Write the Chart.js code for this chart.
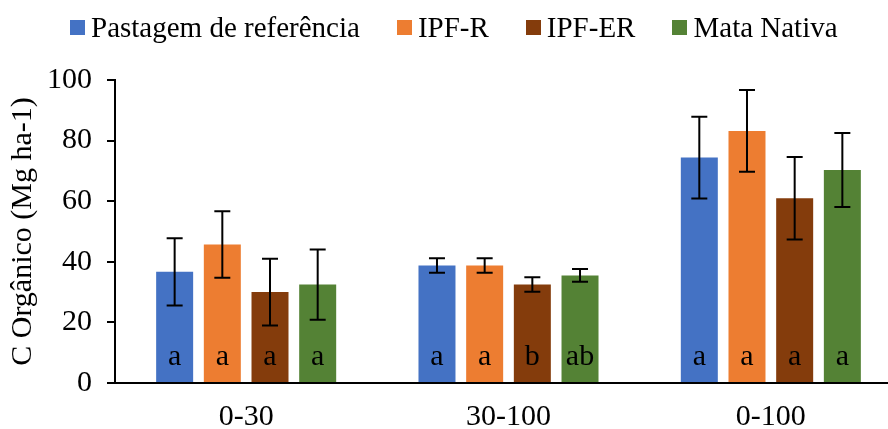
<!DOCTYPE html>
<html>
<head>
<meta charset="utf-8">
<script src="https://cdn.jsdelivr.net/npm/chart.js@4.4.1/dist/chart.umd.min.js"></script>
<style>
  body { margin: 0; overflow: hidden; background: #fff; position: relative; }
  #legenda {
    position: absolute; top: 13px; left: 70px;
    display: flex; white-space: nowrap;
    font-family: 'Liberation Serif', 'Times New Roman', serif;
    font-size: 29px; line-height: 29px; color: #000;
  }
  .item { display: flex; align-items: center; margin-right: 37px; }
  .caixa { width: 15px; height: 15px; margin-right: 6px; }
</style>
</head>
<body>
<div id="legenda"></div>
<canvas id="grafico" width="902" height="429"></canvas>
<script>
const categorias = ["0-30", "30-100", "0-100"];
const nomes = ["Pastagem de referência", "IPF-R", "IPF-ER", "Mata Nativa"];
const cores = ["#4472C4", "#ED7D31", "#843C0C", "#548235"];

const pastagem = [36.7, 38.8, 74.4];
const ipfR = [45.7, 38.8, 83.2];
const ipfER = [30.0, 32.5, 61.0];
const mataNativa = [32.5, 35.5, 70.3];

const erroPastagem = [11.1, 2.4, 13.5];
const erroIpfR = [11.0, 2.4, 13.5];
const erroIpfER = [11.0, 2.4, 13.6];
const erroMata = [11.6, 2.1, 12.2];

const letrasPastagem = ["a", "a", "a"];
const letrasIpfR = ["a", "a", "a"];
const letrasIpfER = ["a", "b", "a"];
const letrasMata = ["a", "ab", "a"];

const yTicks = [0, 20, 40, 60, 80, 100];

const valores = [pastagem, ipfR, ipfER, mataNativa];
const erros = [erroPastagem, erroIpfR, erroIpfER, erroMata];
const letras = [letrasPastagem, letrasIpfR, letrasIpfER, letrasMata];

const fonte = "'Liberation Serif', 'Times New Roman', serif";

// legenda em html (caixa + texto)
const legenda = document.getElementById("legenda");
nomes.forEach((nome, i) => {
  const item = document.createElement("div");
  item.classList.add("item");
  const caixa = document.createElement("span");
  caixa.classList.add("caixa");
  caixa.style.background = cores[i];
  const texto = document.createElement("span");
  texto.textContent = nome;
  item.append(caixa, texto);
  legenda.appendChild(item);
});

// barras de erro e letras de significancia
const extras = {
  id: "extras",
  afterDatasetsDraw(chart) {
    const ctx = chart.ctx;
    const y = chart.scales.y;
    ctx.save();
    chart.data.datasets.forEach((ds, i) => {
      const meta = chart.getDatasetMeta(i);
      meta.data.forEach((bar, j) => {
        const v = ds.data[j];
        const e = ds.erro[j];
        const top = y.getPixelForValue(v + e);
        const bottom = y.getPixelForValue(v - e);
        ctx.strokeStyle = "#000";
        ctx.lineWidth = 2;
        ctx.beginPath();
        ctx.moveTo(bar.x, top);
        ctx.lineTo(bar.x, bottom);
        ctx.moveTo(bar.x - 8, top);
        ctx.lineTo(bar.x + 8, top);
        ctx.moveTo(bar.x - 8, bottom);
        ctx.lineTo(bar.x + 8, bottom);
        ctx.stroke();

        ctx.fillStyle = "#000";
        ctx.font = "30px " + fonte;
        ctx.textAlign = "center";
        ctx.textBaseline = "middle";
        ctx.fillText(ds.letras[j], bar.x, y.getPixelForValue(8.4));
      });
    });
    ctx.restore();
  }
};

const datasets = nomes.map((nome, i) => ({
  label: nome,
  data: valores[i],
  erro: erros[i],
  letras: letras[i],
  backgroundColor: cores[i],
  categoryPercentage: 0.727,
  barPercentage: 0.776
}));

new Chart(document.getElementById("grafico"), {
  type: "bar",
  data: { labels: categorias, datasets: datasets },
  plugins: [extras],
  options: {
    responsive: false,
    animation: false,
    layout: { padding: { left: 0, top: 80, right: 0, bottom: 0 } },
    plugins: {
      tooltip: { enabled: false },
      legend: { display: false }
    },
    scales: {
      x: {
        afterFit: axis => { axis.height = 46; },
        grid: { display: false, drawTicks: false },
        border: { display: true, color: "#000", width: 2 },
        ticks: {
          color: "#000",
          padding: 19,
          font: { family: fonte, size: 30, lineHeight: 1 }
        }
      },
      y: {
        min: 0,
        max: 100,
        afterFit: axis => { axis.width = 115; },
        afterBuildTicks: axis => { axis.ticks = yTicks.map(v => ({ value: v })); },
        grid: { drawOnChartArea: false, tickLength: 8, color: "#000", lineWidth: 2 },
        border: { display: true, color: "#000", width: 2 },
        ticks: {
          color: "#000",
          padding: 15,
          font: { family: fonte, size: 30, lineHeight: 1 }
        },
        title: {
          display: true,
          text: "C Orgânico (Mg ha-1)",
          color: "#000",
          padding: { top: 5, bottom: 4 },
          font: { family: fonte, size: 30 }
        }
      }
    }
  }
});
</script>
</body>
</html>
